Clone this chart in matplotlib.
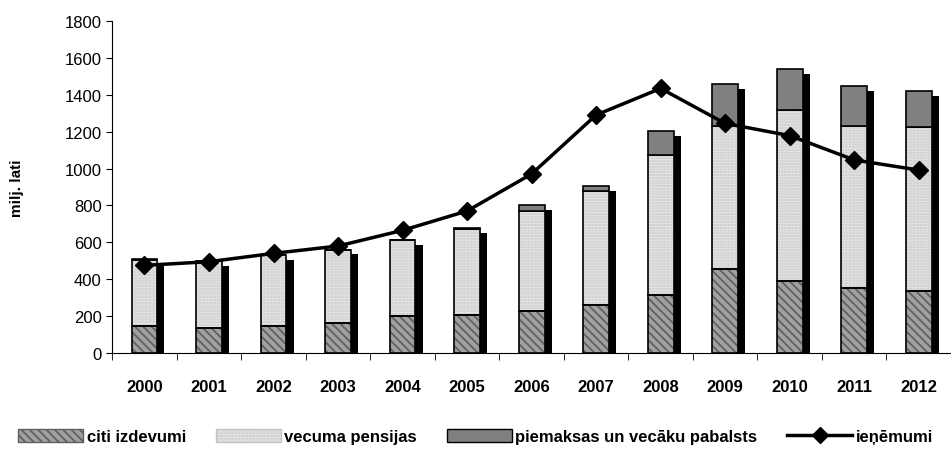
import matplotlib.pyplot as plt
import numpy as np
from matplotlib.patches import Patch
from matplotlib.lines import Line2D

plt.rcParams["font.family"] = ["Liberation Sans", "DejaVu Sans"]
plt.rcParams["hatch.linewidth"] = 1.3

years = ["2000", "2001", "2002", "2003", "2004", "2005", "2006",
         "2007", "2008", "2009", "2010", "2011", "2012"]
citi = [145, 135, 145, 165, 200, 205, 230, 262, 316, 455, 390, 350, 338]
vecuma = [360, 362, 385, 393, 412, 468, 538, 615, 760, 778, 928, 883, 886]
piemaksas = [3, 3, 3, 3, 3, 3, 35, 30, 130, 227, 222, 213, 199]
ienemumi = [475, 495, 540, 580, 665, 770, 971, 1291, 1435, 1245, 1179, 1047, 992]

labels = ["citi izdevumi", "vecuma pensijas",
          "piemaksas un vecāku pabalsts", "ieņēmumi"]

x = np.arange(len(years))
citi = np.array(citi)
vecuma = np.array(vecuma)
piemaksas = np.array(piemaksas)
total = citi + vecuma + piemaksas

fig = plt.figure(figsize=(9.51, 4.52), dpi=100)
ax = fig.add_axes([0.118, 0.217, 0.882, 0.734])

w = 0.40
dx = 0.11   # shadow offset (categories)
dy = 27     # shadow offset (data units)

# shadow
ax.bar(x + dx, total - dy, w, color="black", zorder=1)

# segments
cit_face, cit_hatch = "#a0a0a0", "#606060"
vec_face, vec_hatch = "#ececec", "#c4c4c4"
ax.bar(x, citi, w, color=cit_face, edgecolor=cit_hatch, hatch="\\\\\\\\",
       linewidth=0, zorder=2)
ax.bar(x, citi, w, fill=False, edgecolor="black", linewidth=1.2, zorder=3)
ax.bar(x, vecuma, w, bottom=citi, color=vec_face, edgecolor=vec_hatch,
       hatch="......", linewidth=0, zorder=2)
ax.bar(x, vecuma, w, bottom=citi, fill=False, edgecolor="black",
       linewidth=1.2, zorder=3)
ax.bar(x, piemaksas, w, bottom=citi + vecuma, color="#808080",
       edgecolor="black", linewidth=1.2, zorder=3)

ax.plot(x, ienemumi, color="black", linewidth=2.5, marker="D",
        markersize=9, zorder=5)

ax.set_xlim(-0.5, len(years) - 0.5)
ax.set_ylim(0, 1800)
ax.set_yticks(range(0, 1801, 200))
ax.tick_params(axis="y", labelsize=12, direction="out", length=4)
ax.set_xticks(x)
ax.set_xticklabels(years, fontsize=12, fontweight="bold")
ax.tick_params(axis="x", length=0, pad=19)
ax.set_xticks(np.arange(-0.5, len(years), 1), minor=True)
ax.tick_params(axis="x", which="minor", length=5, direction="out")
ax.set_ylabel("milj. lati", fontsize=11, fontweight="bold", labelpad=29)

for s in ["top", "right"]:
    ax.spines[s].set_visible(False)

handles = [
    Patch(facecolor=cit_face, edgecolor=cit_hatch, hatch="\\\\\\\\"),
    Patch(facecolor=vec_face, edgecolor=vec_hatch, hatch="......"),
    Patch(facecolor="#808080", edgecolor="black"),
    Line2D([0], [0], color="black", linewidth=2.5, marker="D", markersize=8),
]
fig.legend(handles, labels, loc="center", bbox_to_anchor=(0.5, 0.032),
           ncol=4, frameon=False, handlelength=3.9, handleheight=0.8,
           handletextpad=0.2, columnspacing=1.8,
           prop={"weight": "bold", "size": 12})

fig.savefig("out.png", dpi=100)
